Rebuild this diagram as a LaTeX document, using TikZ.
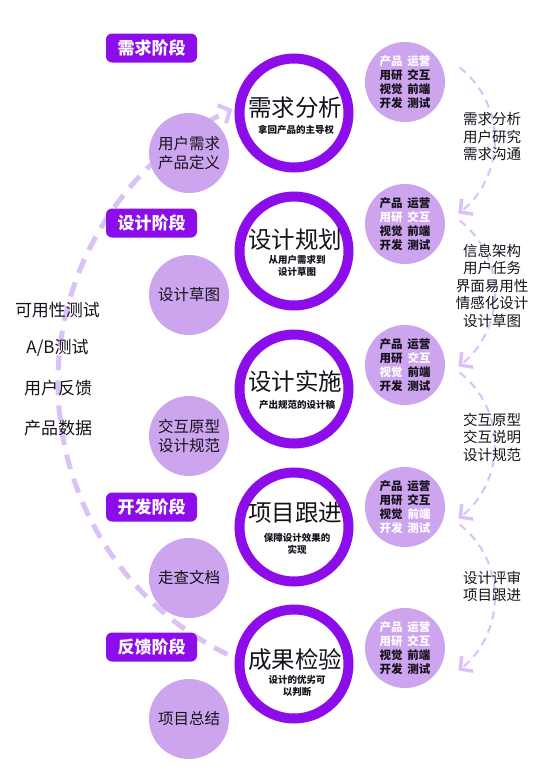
\documentclass[tikz,border=0pt]{standalone}
\usepackage{fontspec}
\setmainfont{Noto Sans CJK SC}
\usetikzlibrary{arrows.meta}
\definecolor{deep}{RGB}{140,12,234}
\definecolor{lav}{RGB}{205,164,238}
\definecolor{dashc}{RGB}{218,193,248}
\definecolor{ink}{RGB}{22,18,28}
\newcommand\wh[1]{\textcolor{white}{#1}}
\newcommand\gp{\hspace{5pt}}
\begin{document}
\begin{tikzpicture}[x=1pt,y=-1pt,
  stage/.style={fill=deep, rounded corners=6pt, minimum width=91pt, minimum height=29pt,
    inner sep=0pt, text=white, font=\fontsize{17}{17}\selectfont\bfseries},
  ring/.style={circle, draw=deep, line width=10pt, fill=white, minimum size=109pt, inner sep=0pt},
  ttl/.style={text=ink, font=\fontsize{23.5}{24}\selectfont, inner sep=0pt},
  sub/.style={text=ink, font=\fontsize{9.5}{12}\selectfont\bfseries, align=center, inner sep=0pt},
  soft/.style={circle, fill=lav, minimum size=80pt, inner sep=0pt, text=ink, align=center,
    font=\fontsize{15.5}{19}\selectfont},
  role/.style={circle, fill=lav, minimum size=80pt, inner sep=0pt, text=ink, align=center,
    font=\fontsize{11.5}{14}\selectfont\bfseries},
  side/.style={text=ink, align=center, inner sep=0pt, font=\fontsize{14.5}{17.5}\selectfont},
  lefttxt/.style={text=ink, inner sep=0pt, font=\fontsize{17}{17}\selectfont},
  bigloop/.style={draw=dashc, line width=5pt, dash pattern=on 15pt off 10pt,
    -{Straight Barb[length=9pt,width=20pt,line width=4pt]}},
  smallloop/.style={draw=dashc, line width=2pt, dash pattern=on 8pt off 6pt,
    -{Straight Barb[length=9pt,width=19pt,line width=3.5pt]}}
]
\useasboundingbox (0,0) rectangle (553,782);
\fill[white] (0,0) rectangle (553,782);

% big left loop
\coordinate (lstart) at (227.6,654.4);
\draw[bigloop] (lstart) arc[start angle=116, end angle=245, radius=302];

% stage labels
\node[stage] (st1) at (151.5,48) {需求阶段};
\node[stage] (st2) at (151.5,223) {设计阶段};
\node[stage] (st3) at (151.5,507) {开发阶段};
\node[stage] (st4) at (151.5,647) {反馈阶段};

% left soft circles
\node[soft] (c1) at (189,153) {用户需求\\产品定义};
\node[soft] (c2) at (189,295) {设计草图};
\node[soft] (c3) at (189,436) {交互原型\\设计规范};
\node[soft] (c4) at (189,578) {走查文档};
\node[soft] (c5) at (189,719) {项目总结};

% rings
\node[ring] (r1) at (294,113) {};
\node[ring] (r2) at (294,251) {};
\node[ring] (r3) at (294,389) {};
\node[ring] (r4) at (294,527) {};
\node[ring] (r5) at (294,664) {};
\node[ttl] (t1) at (295,108) {需求分析};
\node[sub] (s1) at (296,130) {拿回产品的主导权};
\node[ttl] (t2) at (295,240) {设计规划};
\node[sub] (s2) at (297,266) {从用户需求到\\设计草图};
\node[ttl] (t3) at (295,382) {设计实施};
\node[sub] (s3) at (297,405) {产出规范的设计稿};
\node[ttl] (t4) at (295,513) {项目跟进};
\node[sub] (s4) at (297,544) {保障设计效果的\\实现};
\node[ttl] (t5) at (295,660) {成果检验};
\node[sub] (s5) at (297,686) {设计的优劣可\\以判断};

% role circles
\node[role] (p1) at (405,82) {\wh{产品\gp 运营}\\用研\gp 交互\\视觉\gp 前端\\开发\gp 测试};
\node[role] (p2) at (405,224) {产品\gp 运营\\\wh{用研\gp 交互}\\视觉\gp 前端\\开发\gp 测试};
\node[role] (p3) at (405,365) {产品\gp 运营\\用研\gp \wh{交互}\\\wh{视觉}\gp 前端\\开发\gp 测试};
\node[role] (p4) at (405,507) {产品\gp 运营\\用研\gp 交互\\视觉\gp \wh{前端}\\\wh{开发\gp 测试}};
\node[role] (p5) at (405,648) {\wh{产品\gp 运营}\\\wh{用研\gp 交互}\\视觉\gp 前端\\开发\gp 测试};

% right small loops
\coordinate (a1) at (459.6,67.5);
\coordinate (a2) at (459.6,220.5);
\coordinate (a3) at (459.6,372.5);
\coordinate (a4) at (459.6,524.5);
\draw[smallloop] (a1) arc[start angle=-52, end angle=53, radius=92];
\draw[smallloop] (a2) arc[start angle=-52, end angle=53, radius=92];
\draw[smallloop] (a3) arc[start angle=-52, end angle=53, radius=92];
\draw[smallloop] (a4) arc[start angle=-52, end angle=53, radius=92];

% right texts
\node[side] (x1) at (492,137) {需求分析\\用户研究\\需求沟通};
\node[side] (x2) at (492,285.5) {信息架构\\用户任务\\界面易用性\\情感化设计\\设计草图};
\node[side] (x3) at (492,437) {交互原型\\交互说明\\设计规范};
\node[side] (x4) at (492,586.5) {设计评审\\项目跟进};

% left texts
\node[lefttxt] (l1) at (57.5,310) {可用性测试};
\node[lefttxt] (l2) at (57.5,348) {A/B测试};
\node[lefttxt] (l3) at (58,388) {用户反馈};
\node[lefttxt] (l4) at (58,428) {产品数据};
\end{tikzpicture}
\end{document}
